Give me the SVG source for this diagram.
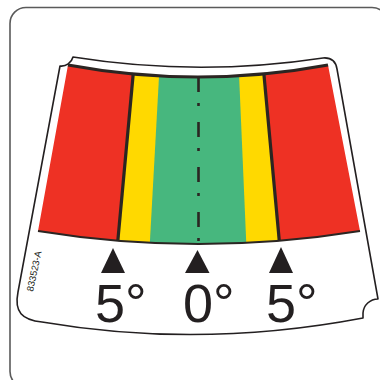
<svg xmlns="http://www.w3.org/2000/svg" width="380" height="380" viewBox="0 0 380 380">
  <style>
    .frame { fill: #ffffff; stroke: #5a5a5a; stroke-width: 1.6; }
    .outline { fill: #ffffff; stroke: #231f20; stroke-width: 1.6; stroke-linejoin: round; }
    .red { fill: #ee3124; }
    .yellow { fill: #ffd900; }
    .green { fill: #47b77e; }
    .divider { stroke: #2b2522; stroke-width: 3.2; fill: none; }
    .edge { stroke: #2b2522; fill: none; }
    .center { stroke: #2b2522; stroke-width: 2.6; fill: none; stroke-dasharray: 15 11 3 16; }
    .arrow { fill: #231f20; }
    .deg { font-family: "Liberation Sans", Arial, sans-serif; font-size: 54px; fill: #231f20; }
    .code { font-family: "Liberation Sans", Arial, sans-serif; font-size: 9.5px; fill: #231f20; }
  </style>
  <defs>
    <clipPath id="area">
      <path d="M68,65 Q198,89 328,65 L360,231 Q198,257 38,231 Z"/>
    </clipPath>
  </defs>

  <rect id="frame" class="frame" x="10" y="7.5" width="378" height="380" rx="16"/>

  <g id="label">
    <path class="outline" d="M73,57 Q198,77 323,58 Q335,57 337,69 L378,299 A15 15 0 0 0 363,313 L363,318 Q200,349 42,322 C22,320 14,312 18,292 L60,66 A12 12 0 0 0 73,57 Z"/>
  </g>

  <g id="scale" clip-path="url(#area)">
    <rect class="red" x="20" y="50" width="350" height="210"/>
    <polygon class="yellow" points="134.3,55 262.8,55 280.7,260 116.2,260"/>
    <polygon class="green" points="160.2,55 238.2,55 247,260 148.9,260"/>
  </g>

  <g id="connectors">
    <path class="edge" stroke-width="3.2" d="M68,65 Q198,89 328,65"/>
    <path class="edge" stroke-width="2.2" d="M38,231 Q198,257 360,231"/>
    <line class="divider" x1="133.3" y1="73" x2="117.8" y2="241"/>
    <line class="divider" x1="263.8" y1="73" x2="279.3" y2="241"/>
    <line class="center" x1="198.5" y1="77" x2="198.5" y2="244"/>
  </g>

  <g id="marks">
    <polygon class="arrow" points="113,248 101,273 125,273"/>
    <polygon class="arrow" points="197.5,250 185,273 209.5,273"/>
    <polygon class="arrow" points="281,247 269,273 293,273"/>
  </g>

  <g id="labels">
    <text class="deg" x="95" y="322">5°</text>
    <text class="deg" x="183" y="322">0°</text>
    <text class="deg" x="266" y="322">5°</text>
    <text class="code" transform="translate(33,292) rotate(-78)">833523-A</text>
  </g>
</svg>
